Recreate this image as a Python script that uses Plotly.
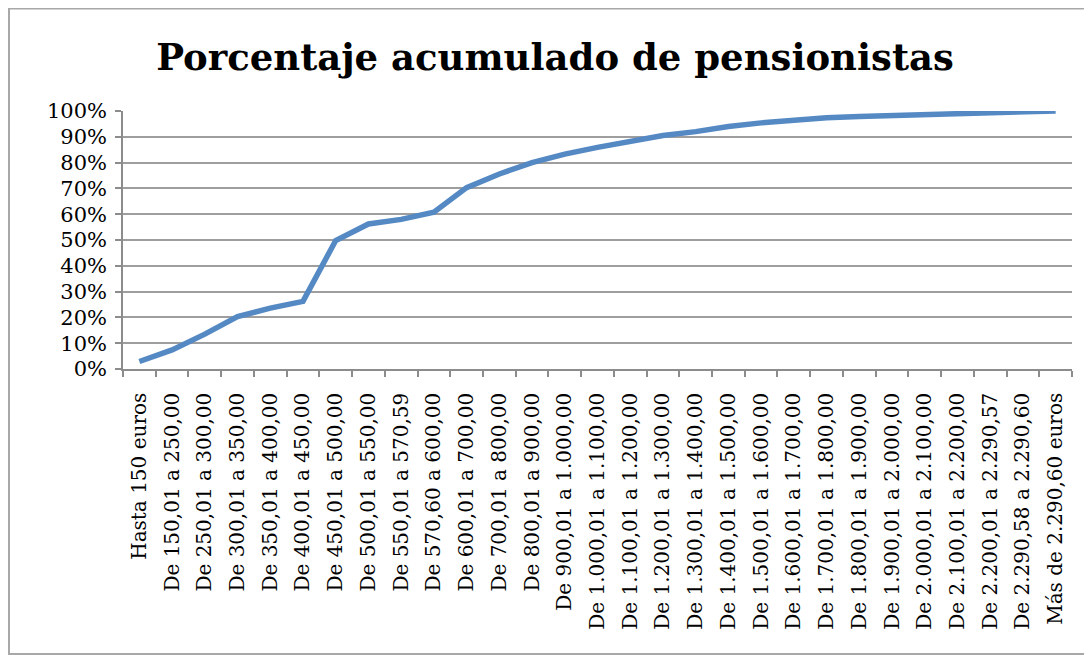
import plotly.graph_objects as go

categories = [
    "Hasta 150 euros",
    "De 150,01 a 250,00",
    "De 250,01 a 300,00",
    "De 300,01 a 350,00",
    "De 350,01 a 400,00",
    "De 400,01 a 450,00",
    "De 450,01 a 500,00",
    "De 500,01 a 550,00",
    "De 550,01 a 570,59",
    "De 570,60 a 600,00",
    "De 600,01 a 700,00",
    "De 700,01 a 800,00",
    "De 800,01 a 900,00",
    "De 900,01 a 1.000,00",
    "De 1.000,01 a 1.100,00",
    "De 1.100,01 a 1.200,00",
    "De 1.200,01 a 1.300,00",
    "De 1.300,01 a 1.400,00",
    "De 1.400,01 a 1.500,00",
    "De 1.500,01 a 1.600,00",
    "De 1.600,01 a 1.700,00",
    "De 1.700,01 a 1.800,00",
    "De 1.800,01 a 1.900,00",
    "De 1.900,01 a 2.000,00",
    "De 2.000,01 a 2.100,00",
    "De 2.100,01 a 2.200,00",
    "De 2.200,01 a 2.290,57",
    "De 2.290,58 a 2.290,60",
    "Más de 2.290,60 euros",
]

cumulative_pct = [
    0.029, 0.074, 0.135, 0.203, 0.236, 0.262, 0.498, 0.562, 0.580, 0.608,
    0.703, 0.756, 0.800, 0.833, 0.859, 0.884, 0.905, 0.920, 0.940, 0.954,
    0.966, 0.974, 0.979, 0.983, 0.987, 0.991, 0.995, 0.999, 1.000,
]

y_ticks = [i / 10 for i in range(11)]

# page body has an 8px margin; figure is placed at (8, 8) in the window
OFF = 8
W, H = 1092 - OFF, 655 - OFF
ML, MR, MT, MB = 123 - OFF, 20, 111 - OFF, 286
pw, ph = W - ML - MR, H - MT - MB

fig = go.Figure()
fig.add_trace(go.Scatter(
    x=categories, y=cumulative_pct, mode="lines",
    line=dict(color="#5589c4", width=5.5),
    hoverinfo="x+y",
))

# chart frame (white box on light gray backdrop)
fig.add_shape(type="rect", xref="paper", yref="paper",
              x0=(1 - ML) / pw, x1=(W + 5 - ML) / pw,
              y0=(H - (654 - OFF) - MB) / ph, y1=(H - 0.5 - MB) / ph,
              fillcolor="white", line=dict(color="#a8a8a8", width=2),
              layer="below")

fig.update_layout(
    width=W, height=H,
    margin=dict(l=ML, r=MR, t=MT, b=MB, autoexpand=False),
    paper_bgcolor="#ebebeb",
    plot_bgcolor="rgba(0,0,0,0)",
    showlegend=False,
    title=dict(
        text="<b>Porcentaje acumulado de pensionistas</b>",
        x=(555 - OFF) / W, xanchor="center",
        y=1 - (57 - OFF) / H, yanchor="middle",
        font=dict(family="DejaVu Serif", size=37, color="#000000"),
    ),
    font=dict(family="DejaVu Serif", color="#000000"),
)

fig.update_xaxes(
    type="category",
    range=[-0.5, len(categories) - 0.5],
    tickangle=-90,
    tickson="boundaries",
    ticks="outside", ticklen=6, tickcolor="#8c8c8c", tickwidth=1.5,
    showline=True, linecolor="#8c8c8c", linewidth=1.5,
    showgrid=False,
    tickfont=dict(family="DejaVu Serif", size=20, color="#000000"),
    ticklabelstandoff=14,
)

fig.update_yaxes(
    range=[0, 1],
    tickvals=y_ticks,
    tickformat=".0%",
    ticks="outside", ticklen=6, tickcolor="#8c8c8c", tickwidth=1.5,
    showline=True, linecolor="#8c8c8c", linewidth=1.5,
    showgrid=True, gridcolor="#9e9e9e", gridwidth=1.5,
    zeroline=False,
    tickfont=dict(family="DejaVu Serif", size=21, color="#000000"),
    ticklabelstandoff=4,
)

fig.write_html("out.html")
